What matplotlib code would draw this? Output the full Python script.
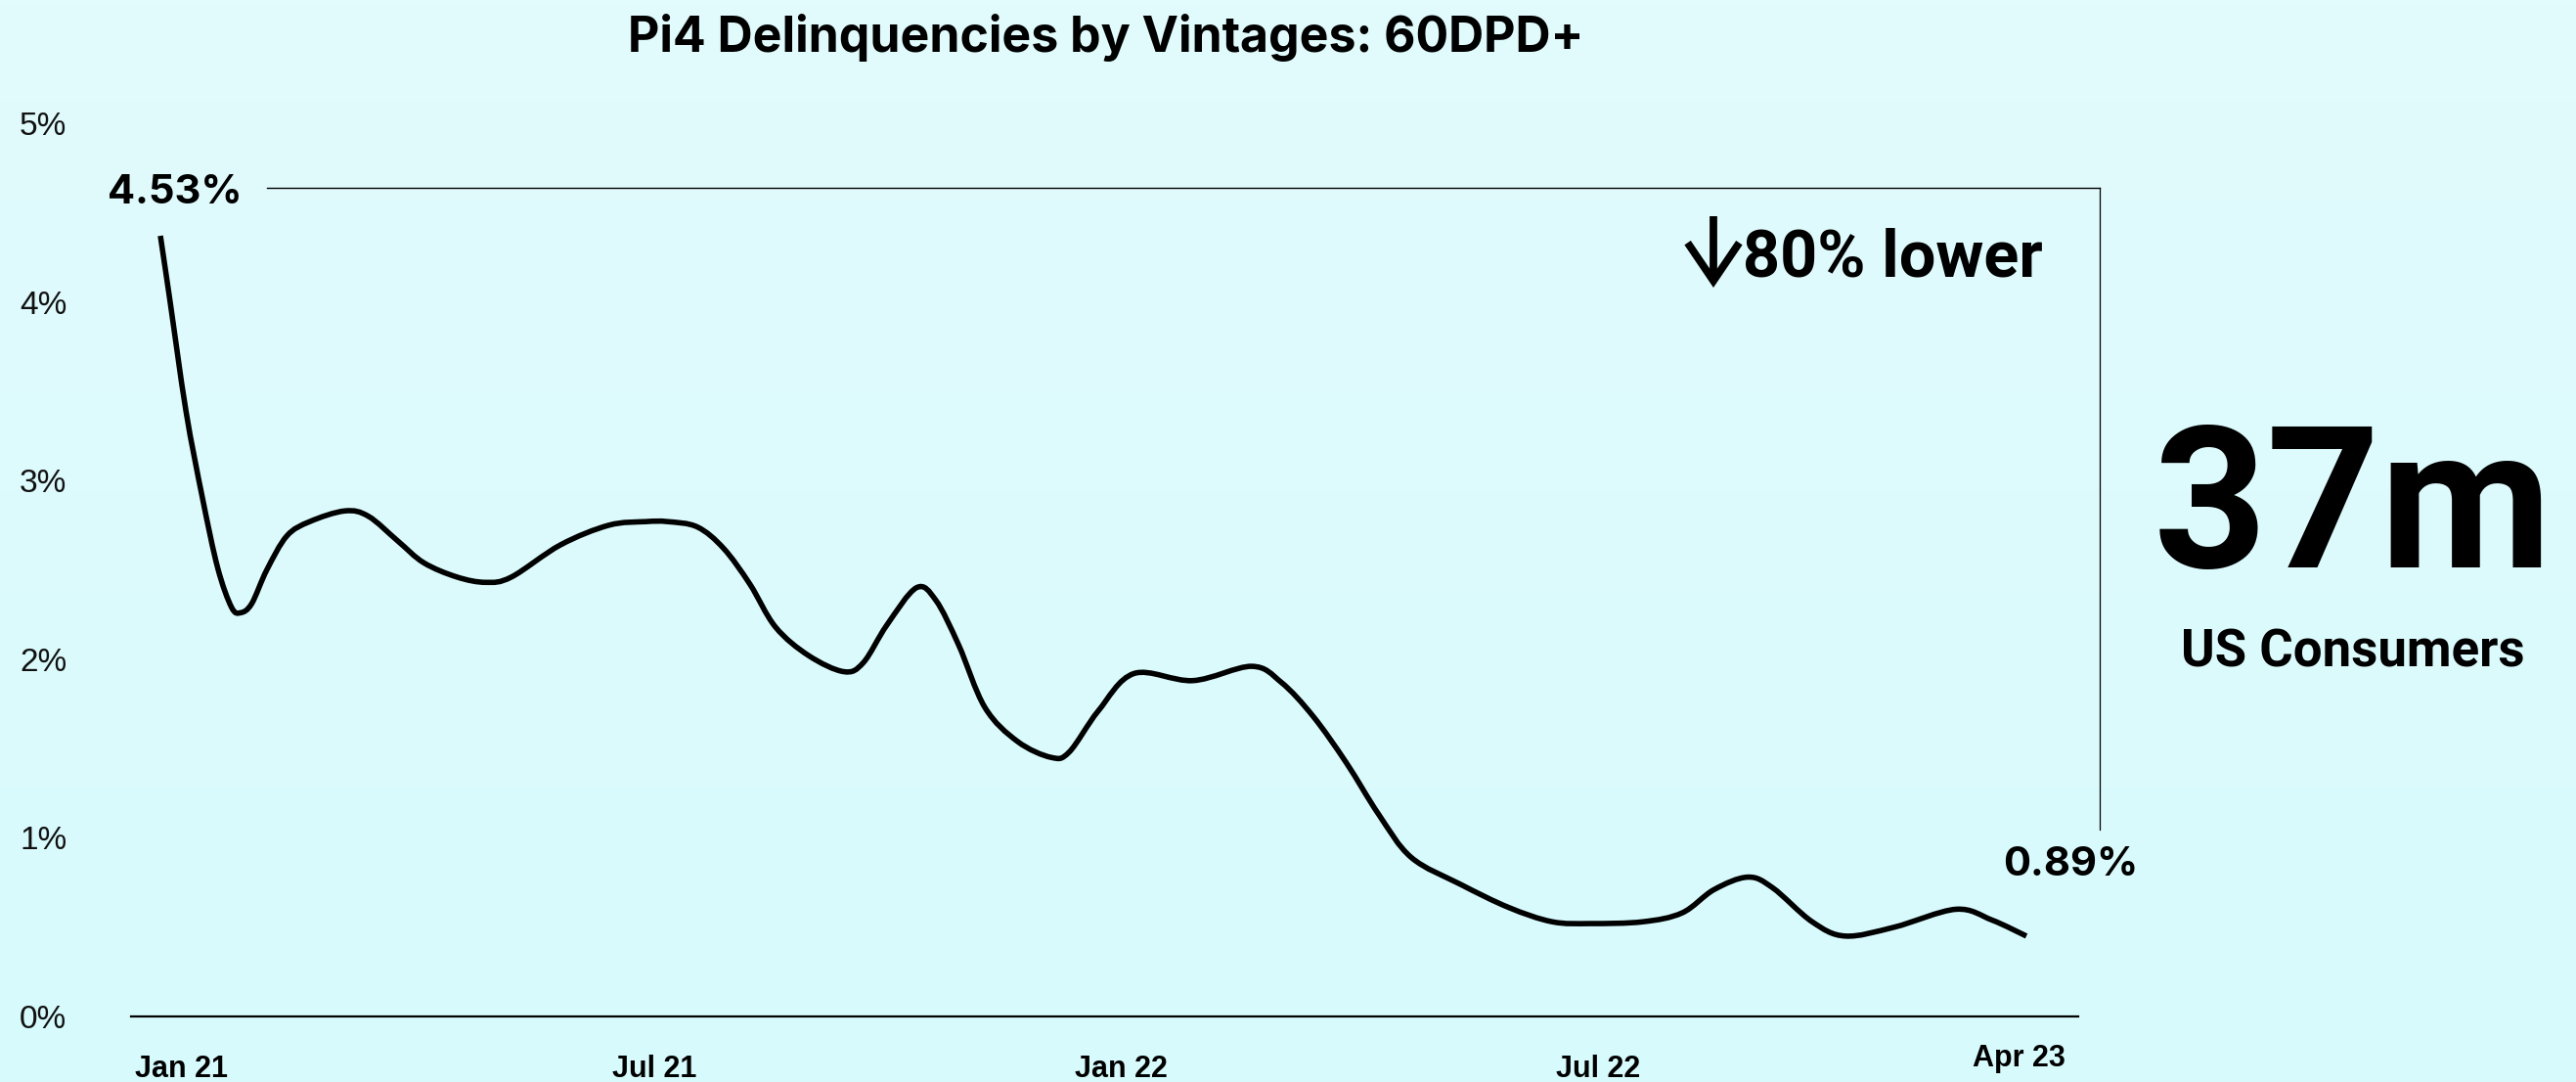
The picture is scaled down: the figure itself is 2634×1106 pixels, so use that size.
import matplotlib
matplotlib.use('Agg')
import matplotlib.pyplot as plt
import numpy as np
from matplotlib.colors import LinearSegmentedColormap
from matplotlib.transforms import ScaledTranslation
from matplotlib.path import Path
from matplotlib.patches import PathPatch

# ---------------- data ----------------
title = 'Pi4 Delinquencies by Vintages: 60DPD+'
# month index: 0 = Jan 21 ... 27 = Apr 23
months = [0.00, 0.13, 0.37, 0.61, 0.83, 1.03, 1.16, 1.32, 1.54, 1.83, 2.16, 2.67,
          3.01, 3.44, 3.81, 4.29, 4.71, 5.08, 5.79, 6.49, 7.02, 7.34, 7.77, 8.15,
          8.53, 8.90, 9.38, 9.89, 10.17, 10.51, 10.94, 11.22, 11.55, 11.93, 12.40,
          12.89, 13.15, 13.57, 14.09, 14.94, 15.79, 16.22, 16.68, 17.16, 17.63,
          18.10, 18.81, 19.51, 20.14, 20.70, 21.45, 22.02, 22.48, 22.97, 23.33,
          23.90, 24.38, 25.09, 25.98, 26.50, 27.00]
values = [4.37, 4.03, 3.39, 2.90, 2.51, 2.29, 2.26, 2.31, 2.50, 2.69, 2.77, 2.83,
          2.80, 2.66, 2.54, 2.46, 2.43, 2.46, 2.64, 2.75, 2.77, 2.77, 2.74, 2.62,
          2.42, 2.18, 2.02, 1.93, 1.98, 2.19, 2.40, 2.33, 2.08, 1.73, 1.54,
          1.45, 1.48, 1.71, 1.92, 1.88, 1.96, 1.87, 1.68, 1.42, 1.13,
          0.89, 0.74, 0.61, 0.53, 0.52, 0.53, 0.58, 0.71, 0.78, 0.72,
          0.53, 0.45, 0.50, 0.60, 0.54, 0.45]
xtick_labels = ['Jan 21', 'Jul 21', 'Jan 22', 'Jul 22', 'Apr 23']
xtick_pos = [0.30, 7.15, 13.90, 20.80, 26.90]
ytick_vals = [0, 1, 2, 3, 4, 5]
ytick_labels = ['0%', '1%', '2%', '3%', '4%', '5%']
start_label = '4.53%'
end_label = '0.89%'
change_label = '80% lower'
big_number = '37m'
big_caption = 'US Consumers'

# ---------------- layout ----------------
W, H, DPI = 2634, 1106, 100
fig = plt.figure(figsize=(W / DPI, H / DPI), dpi=DPI)


def fx(px):
    return px / W


def fy(py):
    return 1 - py / H


# background gradient
bg = fig.add_axes([0, 0, 1, 1], zorder=-10)
grad = np.linspace(0, 1, 256).reshape(-1, 1)
cmap = LinearSegmentedColormap.from_list('bg', ['#E2FBFC', '#D7FAFD'])
bg.imshow(grad, aspect='auto', cmap=cmap, extent=[0, 1, 0, 1], origin='upper')
bg.axis('off')

ax_left, ax_right, ax_bottom = 134, 2125, 1039
ymax = 5.2
px_per_unit = 182.6
ax_top = ax_bottom - ymax * px_per_unit
ax = fig.add_axes([fx(ax_left), fy(ax_bottom), (ax_right - ax_left) / W,
                   (ax_bottom - ax_top) / H])
ax.patch.set_alpha(0)
ax.set_xlim(-0.4245, 27.75)
ax.set_ylim(0, ymax)
for s in ['top', 'right', 'left']:
    ax.spines[s].set_visible(False)
ax.spines['bottom'].set_linewidth(1.6)
ax.spines['bottom'].set_color('black')
ax.tick_params(axis='both', length=0)

ax.set_yticks(ytick_vals, ytick_labels)
ax.tick_params(axis='y', pad=82)
for lab in ax.get_yticklabels():
    lab.set_ha('left')
    lab.set_fontfamily('Liberation Sans')
    lab.set_fontsize(24)
    lab.set_color('#111111')

ax.set_xticks(xtick_pos, xtick_labels)
ax.tick_params(axis='x', pad=28)
for lab in ax.get_xticklabels():
    lab.set_fontfamily('Liberation Sans')
    lab.set_fontweight('bold')
    lab.set_fontsize(22)
    lab.set_color('black')
last = ax.get_xticklabels()[-1]
last.set_transform(last.get_transform() + ScaledTranslation(0, 11 / DPI, fig.dpi_scale_trans))

# smooth curve through the read points (Catmull-Rom drawn as cubic Beziers)
pts = np.column_stack([months, values])
verts = [tuple(pts[0])]
codes = [Path.MOVETO]
n = len(pts)
for i in range(n - 1):
    p0 = pts[i - 1] if i > 0 else pts[i]
    p1 = pts[i]
    p2 = pts[i + 1]
    p3 = pts[i + 2] if i + 2 < n else pts[i + 1]
    c1 = p1 + (p2 - p0) / 6.0
    c2 = p2 - (p3 - p1) / 6.0
    verts += [tuple(c1), tuple(c2), tuple(p2)]
    codes += [Path.CURVE4] * 3
curve = PathPatch(Path(verts, codes), facecolor='none', edgecolor='black', lw=4.0,
                  capstyle='butt', joinstyle='round', clip_on=False, zorder=3)
ax.add_patch(curve)

# bracket lines
bracket_y = 4.64
bracket_x0, bracket_x1 = 1.54, 28.06
bracket_ybot = 1.046
ax.plot([bracket_x0, bracket_x1], [bracket_y, bracket_y], color='black', lw=1.0, clip_on=False)
ax.plot([bracket_x1, bracket_x1], [bracket_y, bracket_ybot], color='black', lw=0.9, clip_on=False)

ax.text(0.21, 4.55, start_label, ha='center', va='baseline', fontsize=30,
        fontweight='bold', family=['Inter', 'DejaVu Sans'], color='black')
ax.text(27.64, 0.79, end_label, ha='center', va='baseline', fontsize=30,
        fontweight='bold', family=['Inter', 'DejaVu Sans'], color='black', clip_on=False)

fig.text(fx(1131), fy(53), title, ha='center', va='baseline', fontsize=36,
         fontweight='bold', family=['Inter', 'DejaVu Sans'], color='black')

# down arrow + change label
ax.annotate('', xy=(1752, H - 294), xytext=(1752, H - 221), xycoords='figure pixels',
            textcoords='figure pixels',
            arrowprops=dict(arrowstyle='->,head_length=2.8,head_width=1.9', lw=5.6,
                            color='black', mutation_scale=10, shrinkA=0, shrinkB=0,
                            joinstyle='miter', capstyle='butt'))
fig.text(fx(2089), fy(282), change_label, ha='right', va='baseline', fontsize=48,
         fontweight='bold', family=['Roboto', 'DejaVu Sans'], color='black')
fig.text(fx(2406), fy(580), big_number, ha='center', va='baseline', fontsize=146,
         fontweight='bold', family=['Roboto', 'DejaVu Sans'], color='black')
fig.text(fx(2406), fy(682), big_caption, ha='center', va='baseline', fontsize=38,
         fontweight='bold', family=['Roboto', 'DejaVu Sans'], color='black')

fig.savefig('out.png', dpi=DPI)
